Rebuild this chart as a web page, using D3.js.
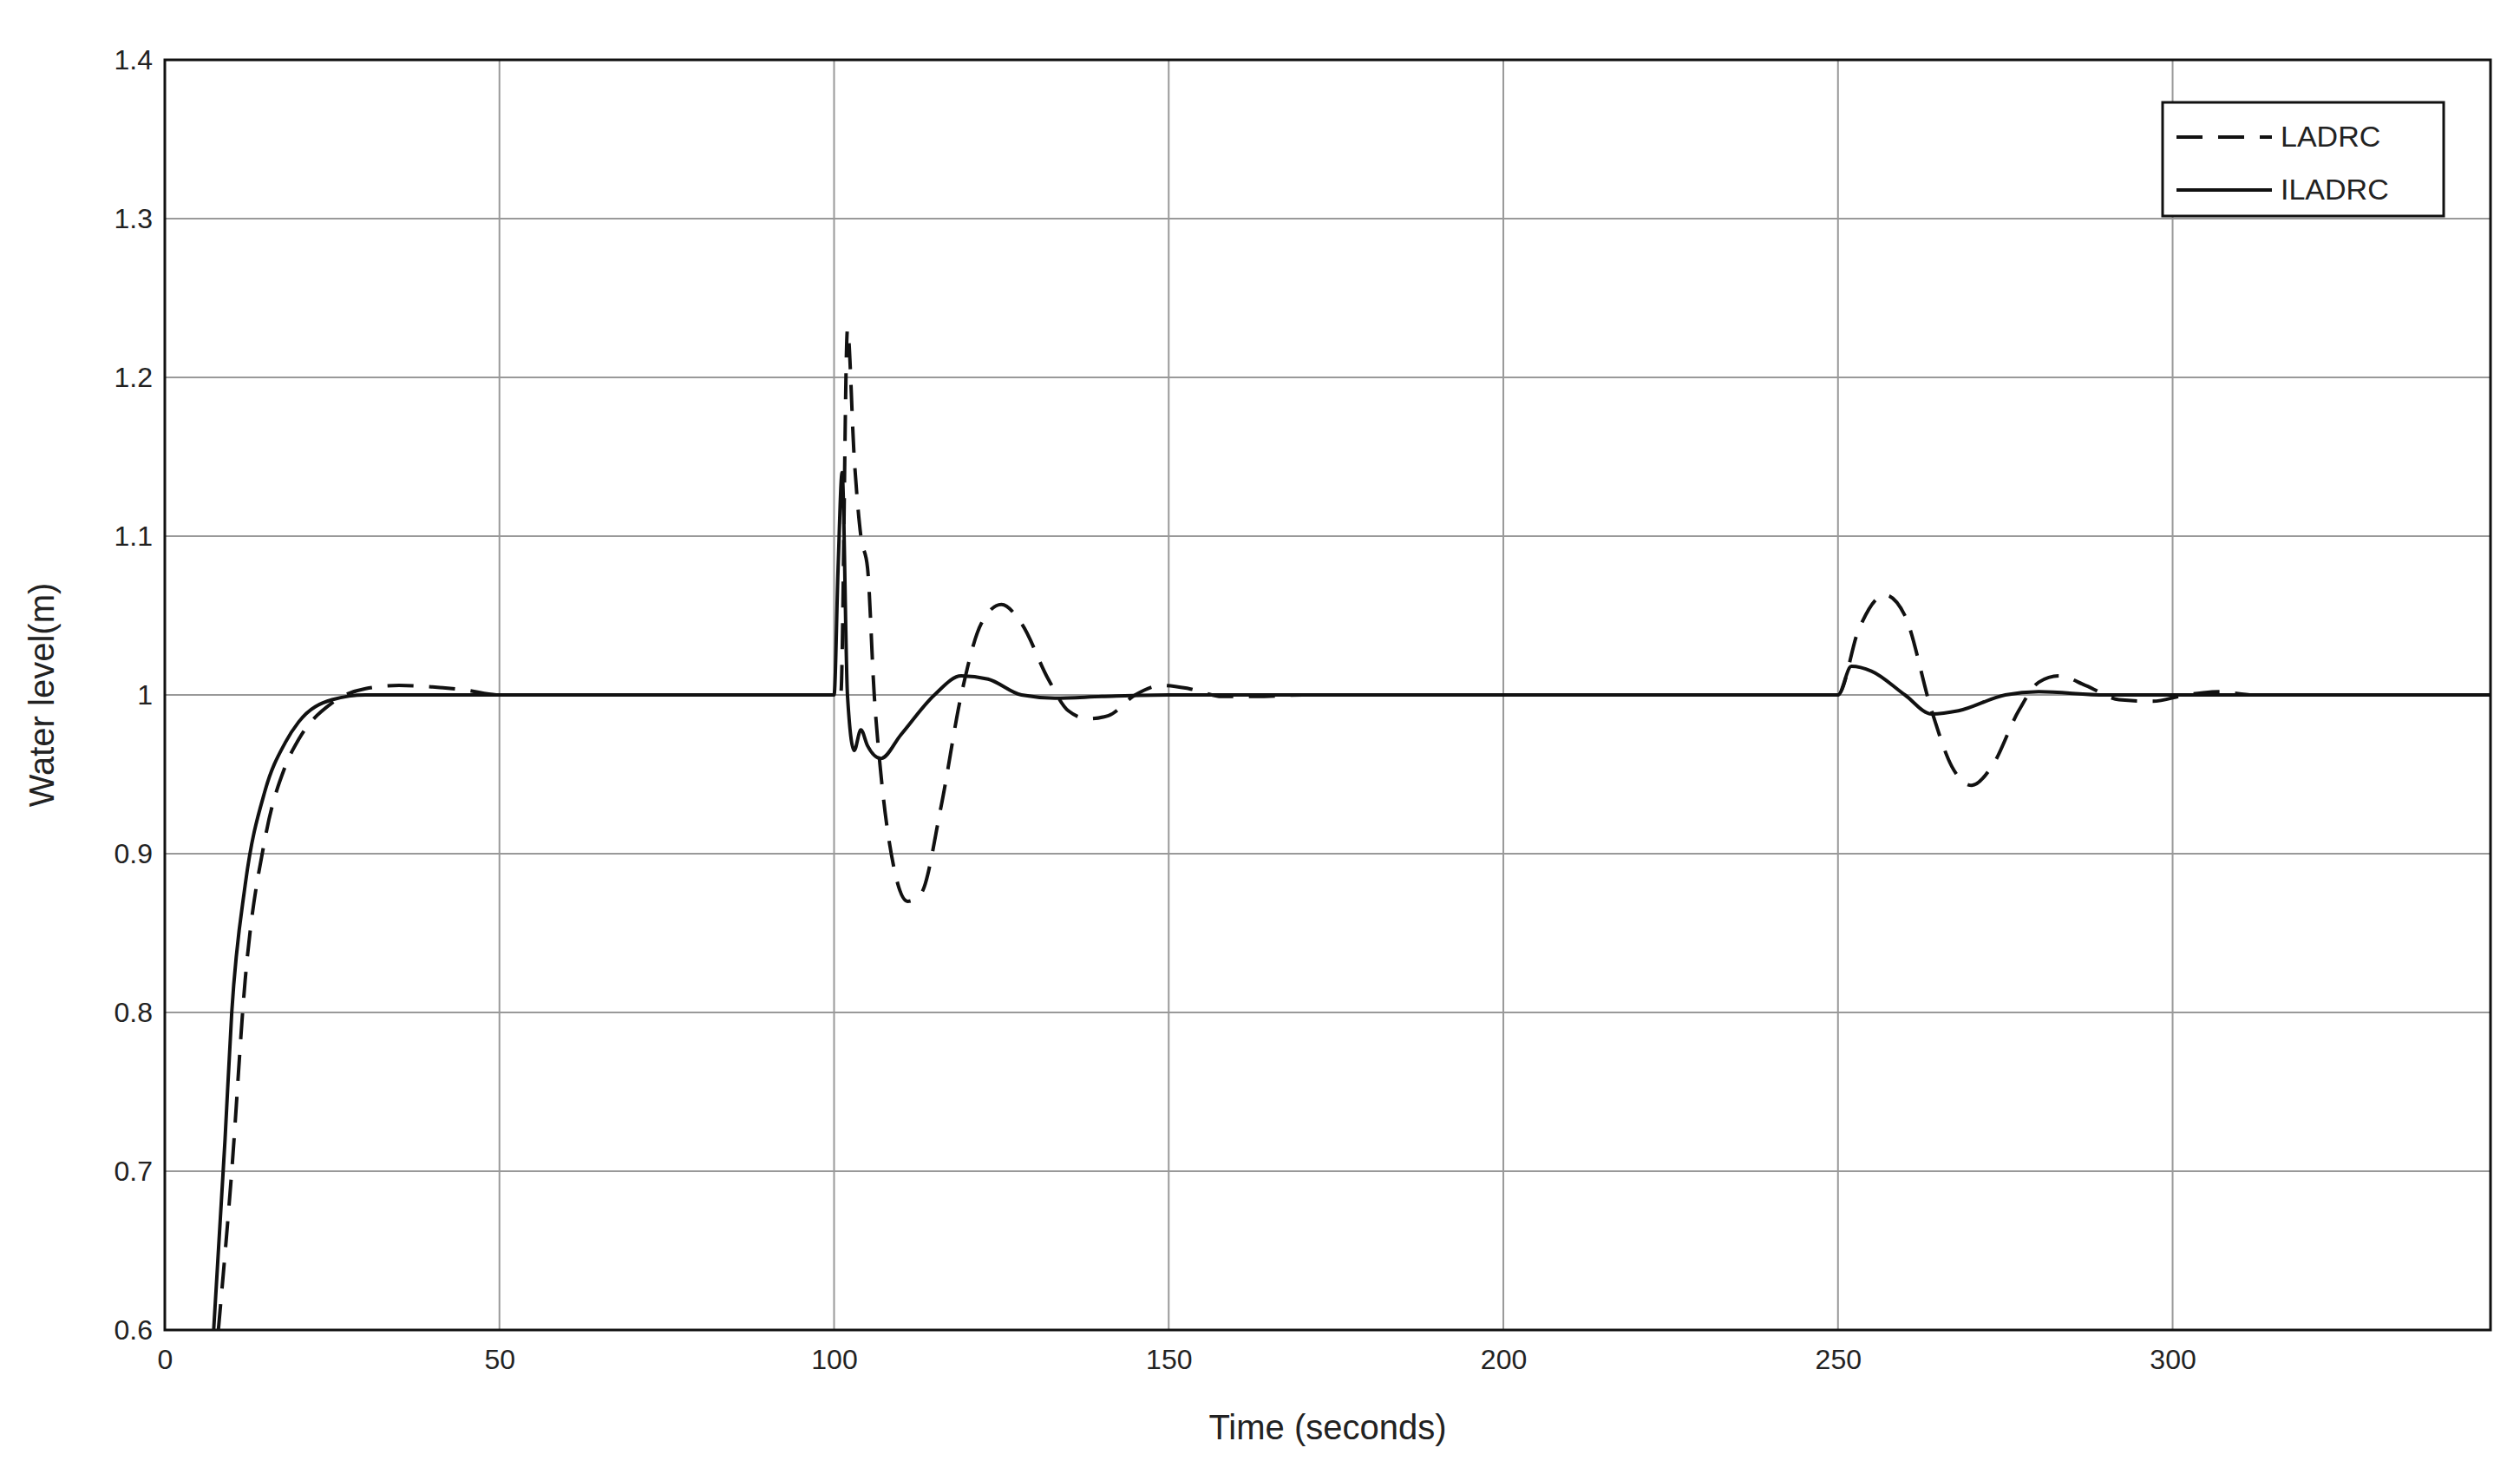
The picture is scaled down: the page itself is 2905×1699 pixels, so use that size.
<!DOCTYPE html>
<html>
<head>
<meta charset="utf-8">
<script src="https://cdn.jsdelivr.net/npm/d3@7"></script>
<style>
body { margin: 0; background: #fff; }
text { font-family: "Liberation Sans", Arial, sans-serif; }
</style>
</head>
<body>
<div id="chart"></div>
<script>
var width = 2905;
var height = 1699;
var margin = {top: 69, right: 34, bottom: 166, left: 190};

var xTicks = [0, 50, 100, 150, 200, 250, 300];
var yTicks = [0.6, 0.7, 0.8, 0.9, 1, 1.1, 1.2, 1.3, 1.4];
var seriesNames = ['LADRC', 'ILADRC'];

var ladrcT = [8, 10, 12, 15, 18, 20, 25, 30, 35, 40, 45, 50, 100, 101, 102, 103, 104, 105, 106, 107, 109, 111, 113, 116, 119, 122, 125, 128, 132, 135, 138, 141, 145, 149, 153, 158, 163, 170, 250, 253, 257, 260, 264, 267, 270, 273, 277, 280, 283, 287, 292, 297, 302, 307, 312, 347.5];
var ladrcY = [0.6, 0.7, 0.82, 0.91, 0.955, 0.972, 0.995, 1.004, 1.006, 1.005, 1.003, 1.0, 1.0, 1.0, 1.23, 1.15, 1.1, 1.08, 1.0, 0.95, 0.89, 0.87, 0.875, 0.93, 1.0, 1.045, 1.057, 1.045, 1.01, 0.99, 0.985, 0.987, 1.0, 1.006, 1.004, 0.999, 0.999, 1.0, 1.0, 1.04, 1.063, 1.05, 0.99, 0.955, 0.943, 0.955, 0.99, 1.008, 1.012, 1.006, 0.997, 0.996, 1.0, 1.002, 1.0, 1.0];

var iladrcT = [7.3, 9, 10, 12, 15, 18, 20, 25, 30, 100, 100.6, 101.2, 102, 103, 104, 105, 107, 110, 115, 119, 123, 128, 133, 140, 150, 250, 252, 255, 260, 264, 268, 275, 280, 290, 347.5];
var iladrcY = [0.6, 0.72, 0.8, 0.88, 0.94, 0.97, 0.983, 0.997, 1.0, 1.0, 1.08, 1.14, 1.0, 0.965, 0.978, 0.968, 0.96, 0.975, 1.0, 1.012, 1.01, 1.0, 0.998, 0.999, 1.0, 1.0, 1.018, 1.015, 1.0, 0.988, 0.99, 1.0, 1.002, 1.0, 1.0];

var svg = d3.select('#chart').append('svg')
    .attr('width', width)
    .attr('height', height);

var x = d3.scaleLinear().domain([0, 347.5]).range([margin.left, width - margin.right]);
var y = d3.scaleLinear().domain([0.6, 1.4]).range([height - margin.bottom, margin.top]);

// grid
svg.append('g').selectAll('line').data(xTicks).enter().append('line')
    .attr('x1', d => x(d)).attr('x2', d => x(d))
    .attr('y1', y(0.6)).attr('y2', y(1.4))
    .attr('stroke', '#999').attr('stroke-width', 2);
svg.append('g').selectAll('line').data(yTicks).enter().append('line')
    .attr('x1', x(0)).attr('x2', x(347.5))
    .attr('y1', d => y(d)).attr('y2', d => y(d))
    .attr('stroke', '#999').attr('stroke-width', 2);

svg.append('defs').append('clipPath').attr('id', 'clip')
    .append('rect')
    .attr('x', x(0)).attr('y', y(1.4))
    .attr('width', x(347.5) - x(0)).attr('height', y(0.6) - y(1.4));

var line = d3.line().curve(d3.curveMonotoneX).x(d => x(d[0])).y(d => y(d[1]));

svg.append('path')
    .datum(ladrcT.map((t, i) => [t, ladrcY[i]]))
    .attr('clip-path', 'url(#clip)')
    .attr('d', line).attr('fill', 'none')
    .attr('stroke', '#111').attr('stroke-width', 4)
    .attr('stroke-dasharray', '30,18');

svg.append('path')
    .datum(iladrcT.map((t, i) => [t, iladrcY[i]]))
    .attr('clip-path', 'url(#clip)')
    .attr('d', line).attr('fill', 'none')
    .attr('stroke', '#111').attr('stroke-width', 4);

// axes
var xAxis = svg.append('g')
    .attr('transform', `translate(0, ${y(0.6)})`)
    .call(d3.axisBottom(x).tickValues(xTicks).tickSize(0).tickPadding(22).tickFormat(d3.format('d')));
var yAxis = svg.append('g')
    .attr('transform', `translate(${x(0)}, 0)`)
    .call(d3.axisLeft(y).tickValues(yTicks).tickSize(0).tickPadding(14).tickFormat(d => d === 1 ? '1' : d3.format('.1f')(d)));
[xAxis, yAxis].forEach(a => {
    a.select('.domain').remove();
    a.selectAll('text').attr('font-size', 32).attr('fill', '#222')
        .attr('font-family', '"Liberation Sans", Arial, sans-serif');
});

// frame
svg.append('rect')
    .attr('x', x(0)).attr('y', y(1.4))
    .attr('width', x(347.5) - x(0)).attr('height', y(0.6) - y(1.4))
    .attr('fill', 'none').attr('stroke', '#111').attr('stroke-width', 3);

svg.append('text')
    .attr('x', (x(0) + x(347.5)) / 2).attr('y', height - 40)
    .attr('text-anchor', 'middle').attr('font-size', 40).attr('fill', '#222')
    .text('Time (seconds)');
svg.append('text')
    .attr('transform', `translate(62, ${(y(0.6) + y(1.4)) / 2}) rotate(-90)`)
    .attr('text-anchor', 'middle').attr('font-size', 40).attr('fill', '#222')
    .text('Water level(m)');

// legend
var lg = svg.append('g').attr('transform', 'translate(2493, 118)');
lg.append('rect').attr('width', 324).attr('height', 131)
    .attr('fill', '#fff').attr('stroke', '#111').attr('stroke-width', 3);
lg.selectAll('line').data(seriesNames).enter().append('line')
    .attr('x1', 16).attr('x2', 126)
    .attr('y1', (d, i) => 40 + i * 61).attr('y2', (d, i) => 40 + i * 61)
    .attr('stroke', '#111').attr('stroke-width', 4)
    .attr('stroke-dasharray', (d, i) => i === 0 ? '30,18' : null);
lg.selectAll('text').data(seriesNames).enter().append('text')
    .attr('x', 136).attr('y', (d, i) => 51 + i * 61)
    .attr('font-size', 34).attr('fill', '#222')
    .text(d => d);
</script>
</body>
</html>
